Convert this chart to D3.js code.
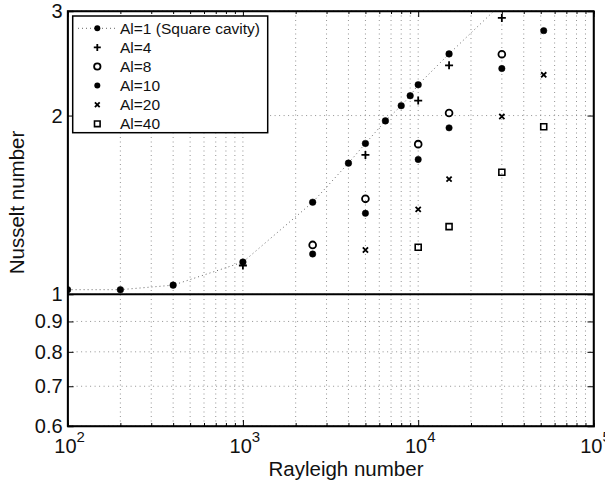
<!DOCTYPE html>
<html>
<head>
<meta charset="utf-8">
<script src="https://cdn.jsdelivr.net/npm/d3@7"></script>
<style>
  body { margin: 0; background: #fff; }
  svg { font-family: "Liberation Sans", Arial, sans-serif; }
</style>
</head>
<body>
<div id="chart"></div>
<script>
// data
var raAl1 = [100, 200, 400, 1000, 2500, 4000, 5000, 6500, 8000, 9000, 10000, 15000, 30000];
var nuAl1 = [1.018, 1.018, 1.036, 1.133, 1.429, 1.663, 1.795, 1.959, 2.078, 2.16, 2.254, 2.54, 3.09];
var raAl4 = [1000, 5000, 10000, 15000, 30000];
var nuAl4 = [1.118, 1.717, 2.12, 2.43, 2.92];
var raAl8 = [2500, 5000, 10000, 15000, 30000];
var nuAl8 = [1.211, 1.448, 1.79, 2.02, 2.537];
var raAl10 = [2500, 5000, 10000, 15000, 30000, 52000];
var nuAl10 = [1.169, 1.369, 1.687, 1.907, 2.40, 2.78];
var raAl20 = [5000, 10000, 15000, 30000, 52000];
var nuAl20 = [1.187, 1.39, 1.563, 1.993, 2.342];
var raAl40 = [10000, 15000, 30000, 52000];
var nuAl40 = [1.2, 1.30, 1.605, 1.915];

var legendLabels = ["Al=1 (Square cavity)", "Al=4", "Al=8", "Al=10", "Al=20", "Al=40"];
var xTickValues = [100, 1000, 10000, 100000];
var yTickValues = [0.6, 0.7, 0.8, 0.9, 1, 2, 3];

var width = 605, height = 493;
var plotL = 67.6, plotR = 593.5, plotT = 11, plotB = 426;

var svg = d3.select("#chart").append("svg")
	.attr("width", width)
	.attr("height", height);

var x = d3.scaleLog().domain([100, 100000]).range([plotL, plotR]);
var y = d3.scaleLog().domain([0.6, 3]).range([plotB, plotT]);

svg.append("clipPath").attr("id", "plotClip")
	.append("rect")
	.attr("x", plotL).attr("y", plotT)
	.attr("width", plotR - plotL).attr("height", plotB - plotT);

// grid
var grid = svg.append("g").attr("stroke", "#777").attr("stroke-width", 0.8)
	.attr("stroke-dasharray", "1,3.5");
grid.selectAll("line.vx").data(x.ticks()).enter()
	.append("line")
	.attr("x1", function(d){ return x(d); })
	.attr("x2", function(d){ return x(d); })
	.attr("y1", plotT).attr("y2", plotB);
grid.selectAll("line.hy").data(yTickValues).enter()
	.append("line")
	.attr("x1", plotL).attr("x2", plotR)
	.attr("y1", function(d){ return y(d); })
	.attr("y2", function(d){ return y(d); });

// line at Nu = 1
svg.append("line")
	.attr("x1", plotL).attr("x2", plotR)
	.attr("y1", y(1)).attr("y2", y(1))
	.attr("stroke", "#000").attr("stroke-width", 2);

// axes, ticks drawn inwards on all four sides
var xAxis = d3.axisBottom(x).tickValues(x.ticks())
	.tickSize(-3).tickFormat("");
var gx = svg.append("g").attr("transform", "translate(0," + plotB + ")").call(xAxis);
gx.selectAll(".tick line").filter(function(d){ return xTickValues.indexOf(d) >= 0; })
	.attr("y2", -6);
var gxTop = svg.append("g").attr("transform", "translate(0," + plotT + ")")
	.call(d3.axisTop(x).tickValues(x.ticks()).tickSize(-3).tickFormat(""));
gxTop.selectAll(".tick line").filter(function(d){ return xTickValues.indexOf(d) >= 0; })
	.attr("y2", 6);

var yAxis = d3.axisLeft(y).tickValues(yTickValues).tickSize(-6).tickFormat("");
svg.append("g").attr("transform", "translate(" + plotL + ",0)").call(yAxis);
svg.append("g").attr("transform", "translate(" + plotR + ",0)")
	.call(d3.axisRight(y).tickValues(yTickValues).tickSize(-6).tickFormat(""));

svg.selectAll(".domain").attr("stroke", "#000").attr("stroke-width", 1.5);
svg.selectAll(".tick line").attr("stroke", "#000").attr("stroke-width", 1);

// box
svg.append("rect")
	.attr("x", plotL).attr("y", plotT)
	.attr("width", plotR - plotL).attr("height", plotB - plotT)
	.attr("fill", "none").attr("stroke", "#000").attr("stroke-width", 1.5);

// tick labels
var yLab = svg.append("g").attr("font-size", 20).attr("fill", "#111")
	.attr("text-anchor", "end");
yLab.selectAll("text").data(yTickValues).enter()
	.append("text")
	.attr("x", plotL - 5)
	.attr("y", function(d){ return y(d) + 7; })
	.text(function(d){ return d; });

var xLab = svg.append("g").attr("font-size", 20).attr("fill", "#111")
	.attr("text-anchor", "middle");
var xl = xLab.selectAll("text").data(xTickValues).enter()
	.append("text")
	.attr("x", function(d){ return x(d) + 2; })
	.attr("y", 453);
xl.append("tspan").text("10");
xl.append("tspan").attr("dy", -11).attr("font-size", 15)
	.text(function(d){ return Math.round(Math.log10(d)); });

// axis titles
svg.append("text")
	.attr("x", 346).attr("y", 476)
	.attr("text-anchor", "middle").attr("font-size", 20.5).attr("fill", "#111")
	.text("Rayleigh number");
svg.append("text")
	.attr("transform", "translate(24," + ((plotT + plotB) / 2 - 16) + ") rotate(-90)")
	.attr("text-anchor", "middle").attr("font-size", 20.5).attr("fill", "#111")
	.text("Nusselt number");

// markers
function markerPath(kind, s){
	if (kind == "plus") {
		return "M" + (-s) + ",0H" + s + "M0," + (-s) + "V" + s;
	}
	if (kind == "times") {
		return "M" + (-s) + "," + (-s) + "L" + s + "," + s + "M" + (-s) + "," + s + "L" + s + "," + (-s);
	}
	if (kind == "square") {
		return "M" + (-s) + "," + (-s) + "H" + s + "V" + s + "H" + (-s) + "Z";
	}
	return "";
}

var plot = svg.append("g").attr("clip-path", "url(#plotClip)");

var al1 = raAl1.map(function(d, i){ return [d, nuAl1[i]]; });
plot.append("path")
	.datum(al1)
	.attr("fill", "none")
	.attr("stroke", "#666")
	.attr("stroke-width", 1)
	.attr("stroke-dasharray", "1,3")
	.attr("d", d3.line()
		.x(function(d){ return x(d[0]); })
		.y(function(d){ return y(d[1]); }));

function drawCircles(ra, nu, r, filled){
	plot.append("g").selectAll("circle").data(ra).enter()
		.append("circle")
		.attr("cx", function(d){ return x(d); })
		.attr("cy", function(d, i){ return y(nu[i]); })
		.attr("r", r)
		.attr("fill", filled ? "#000" : "none")
		.attr("stroke", "#000")
		.attr("stroke-width", filled ? 0.5 : 1.8);
}
function drawPaths(ra, nu, kind, s, sw){
	plot.append("g").selectAll("path").data(ra).enter()
		.append("path")
		.attr("transform", function(d, i){ return "translate(" + x(d) + "," + y(nu[i]) + ")"; })
		.attr("d", markerPath(kind, s))
		.attr("fill", "none")
		.attr("stroke", "#000")
		.attr("stroke-width", sw);
}

drawCircles(raAl1, nuAl1, 3.3, true);
drawPaths(raAl4, nuAl4, "plus", 4, 1.8);
drawCircles(raAl8, nuAl8, 3.4, false);
drawCircles(raAl10, nuAl10, 3.2, true);
drawPaths(raAl20, nuAl20, "times", 2.6, 1.8);
drawPaths(raAl40, nuAl40, "square", 3, 1.6);

// legend
var legend = svg.append("g");
legend.append("rect")
	.attr("x", 72.7).attr("y", 16)
	.attr("width", 195).attr("height", 116.7)
	.attr("fill", "#fff").attr("stroke", "#000").attr("stroke-width", 1.5);

var rowY = function(i){ return 28.3 + 19.1 * i; };
legend.append("line")
	.attr("x1", 78).attr("x2", 116)
	.attr("y1", rowY(0)).attr("y2", rowY(0))
	.attr("stroke", "#666").attr("stroke-dasharray", "1,3");
legend.append("circle").attr("cx", 97.3).attr("cy", rowY(0)).attr("r", 3);
legend.append("path").attr("transform", "translate(97.3," + rowY(1) + ")")
	.attr("d", markerPath("plus", 3.5)).attr("stroke", "#000").attr("stroke-width", 1.8);
legend.append("circle").attr("cx", 97.3).attr("cy", rowY(2)).attr("r", 3.2)
	.attr("fill", "none").attr("stroke", "#000").attr("stroke-width", 1.8);
legend.append("circle").attr("cx", 97.3).attr("cy", rowY(3)).attr("r", 3);
legend.append("path").attr("transform", "translate(97.3," + rowY(4) + ")")
	.attr("d", markerPath("times", 2.4)).attr("stroke", "#000").attr("stroke-width", 1.8);
legend.append("path").attr("transform", "translate(97.3," + rowY(5) + ")")
	.attr("d", markerPath("square", 2.8)).attr("fill", "none")
	.attr("stroke", "#000").attr("stroke-width", 1.6);

legend.selectAll("text").data(legendLabels).enter()
	.append("text")
	.attr("x", 120)
	.attr("y", function(d, i){ return rowY(i) + 5.5; })
	.attr("font-size", 15.5)
	.attr("fill", "#111")
	.text(function(d){ return d; });
</script>
</body>
</html>
